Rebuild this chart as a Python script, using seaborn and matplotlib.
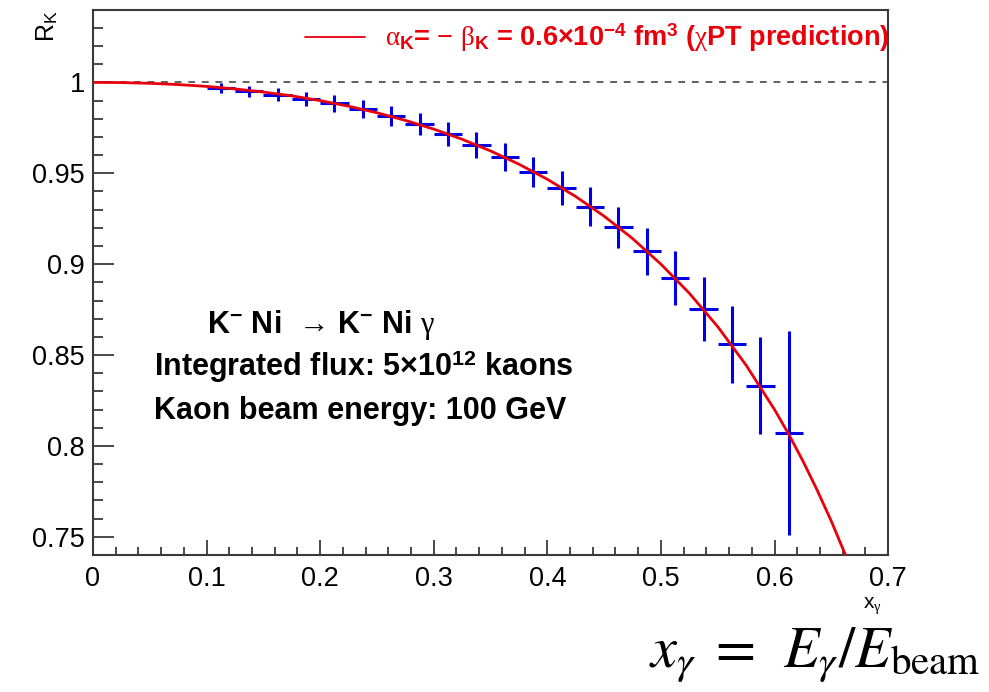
import matplotlib
matplotlib.use("Agg")
import matplotlib.pyplot as plt
import numpy as np
import pandas as pd
import seaborn as sns

# Simulated measurement: bin centres, ratio values and statistical errors
x_bins = [0.1125, 0.1375, 0.1625, 0.1875, 0.2125, 0.2375, 0.2625, 0.2875,
          0.3125, 0.3375, 0.3625, 0.3875, 0.4125, 0.4375, 0.4625, 0.4875,
          0.5125, 0.5375, 0.5625, 0.5875, 0.6125]
r_values = [0.9968, 0.9950, 0.9933, 0.9909, 0.9884, 0.9852, 0.9815, 0.9770,
            0.9718, 0.9656, 0.9588, 0.9508, 0.9418, 0.9316, 0.9203, 0.9070,
            0.8924, 0.8752, 0.8558, 0.8332, 0.8070]
r_errors = [0.0027, 0.0030, 0.0035, 0.0039, 0.0045, 0.0050, 0.0055, 0.0060,
            0.0066, 0.0071, 0.0078, 0.0083, 0.0093, 0.0107, 0.0113, 0.0129,
            0.0151, 0.0175, 0.0210, 0.0266, 0.0560]
bin_halfwidth = 0.0125

# ChPT prediction curve
x_curve = [0.0, 0.025, 0.05, 0.075, 0.1, 0.125, 0.15, 0.175, 0.2, 0.225,
           0.25, 0.275, 0.3, 0.325, 0.35, 0.375, 0.4, 0.425, 0.45, 0.475,
           0.5, 0.525, 0.55, 0.575, 0.6, 0.6125, 0.625, 0.6375, 0.65,
           0.6625, 0.675]
r_curve = [1.0, 0.9999, 0.9995, 0.9988, 0.9978, 0.9964, 0.9947, 0.9926,
           0.9900, 0.9869, 0.9833, 0.9791, 0.9743, 0.9687, 0.9623, 0.9550,
           0.9467, 0.9372, 0.9264, 0.9141, 0.9000, 0.8840, 0.8656, 0.8444,
           0.8200, 0.8064, 0.7917, 0.7757, 0.7586, 0.7399, 0.7196]

x_ticks = [0, 0.1, 0.2, 0.3, 0.4, 0.5, 0.6, 0.7]
x_ticklabels = ["0", "0.1", "0.2", "0.3", "0.4", "0.5", "0.6", "0.7"]
y_ticks = [0.75, 0.8, 0.85, 0.9, 0.95, 1.0]
y_ticklabels = ["0.75", "0.8", "0.85", "0.9", "0.95", "1"]

sns.set_theme(style="ticks")
plt.rcParams["font.family"] = ["Liberation Sans", "DejaVu Sans"]
plt.rcParams["text.color"] = "black"
plt.rcParams["mathtext.fontset"] = "custom"
plt.rcParams["mathtext.rm"] = "Liberation Sans"
plt.rcParams["mathtext.bf"] = "Liberation Sans:bold"
plt.rcParams["mathtext.it"] = "Liberation Serif"
plt.rcParams["mathtext.sf"] = "Liberation Sans"

RED = "#e8000b"
BLUE = "#0000e6"
AXC = "#3a3a3a"

fig = plt.figure(figsize=(9.89, 6.92), dpi=100)
ax = fig.add_axes([0.094, 0.198, 0.804, 0.788])

curve_df = pd.DataFrame({"x": x_curve, "r": r_curve})
data_df = pd.DataFrame({"x": x_bins, "r": r_values, "err": r_errors})

# reference line at R = 1
ax.axhline(1.0, color="#606060", lw=1.4, ls=(0, (3.5, 3.5)), zorder=1)

ax.errorbar(data_df["x"], data_df["r"], yerr=data_df["err"],
            xerr=bin_halfwidth, fmt="none", ecolor=BLUE, elinewidth=2.2,
            capsize=0, zorder=2)

sns.lineplot(data=curve_df, x="x", y="r", color=RED, lw=2.0, ax=ax,
             zorder=3, label="_nolegend_", sort=False)

ax.set_xlim(0, 0.7)
ax.set_ylim(0.74, 1.04)
ax.set_xticks(x_ticks)
ax.set_xticklabels(x_ticklabels)
ax.set_yticks(y_ticks)
ax.set_yticklabels(y_ticklabels)
ax.xaxis.set_minor_locator(matplotlib.ticker.MultipleLocator(0.02))
ax.yaxis.set_minor_locator(matplotlib.ticker.MultipleLocator(0.01))
ax.tick_params(axis="both", which="both", direction="in", color=AXC,
               width=1.3, labelsize=19.5, labelcolor="black")
ax.tick_params(axis="x", which="major", length=11, pad=8)
ax.tick_params(axis="x", which="minor", length=5.5)
ax.tick_params(axis="y", which="major", length=15, pad=6)
ax.tick_params(axis="y", which="minor", length=7.5)
for side in ["top", "right", "left", "bottom"]:
    ax.spines[side].set_visible(True)
    ax.spines[side].set_color(AXC)
    ax.spines[side].set_linewidth(1.5)
ax.set_xlabel("")
ax.set_ylabel("")

# axis titles
fig.text(0.882, 0.124, r"x$_{\gamma}$", fontsize=15, ha="center", va="center")
fig.text(0.048, 0.962, r"R$_{\mathrm{K}}$", fontsize=18, rotation=90,
         ha="center", va="center")

# legend entry
ax.plot([0.1866, 0.2394], [1.0247, 1.0247], color=RED, lw=1.3,
        clip_on=False)
ax.text(0.257, 1.0247,
        r"$\alpha_{\mathbf{K}}$= $-$ $\beta_{\mathbf{K}}$ = 0.6×10$^{\mathbf{-4}}$ fm$^{\mathbf{3}}$ ($\chi$PT prediction)",
        color=RED, fontsize=19.5, fontweight="bold", ha="left", va="center")

# reaction and beam information
ax.text(0.1005, 0.8665, r"K$^{\mathbf{-}}$ Ni  → K$^{\mathbf{-}}$ Ni $\gamma$",
        fontsize=22, fontweight="bold", ha="left", va="center", color="black")
ax.text(0.0535, 0.8434, r"Integrated flux: 5×10$^{\mathbf{12}}$ kaons",
        fontsize=22, fontweight="bold", ha="left", va="center", color="black")
ax.text(0.0535, 0.8192, "Kaon beam energy: 100 GeV",
        fontsize=22, fontweight="bold", ha="left", va="center", color="black")

# definition of the scaling variable
fig.text(0.991, 0.036, r"$x_\gamma\;=\;\,E_\gamma/E_{\mathrm{beam}}$",
         fontsize=42, ha="right", va="baseline", math_fontfamily="stix",
         color="black")

fig.savefig("out.png", dpi=100)
